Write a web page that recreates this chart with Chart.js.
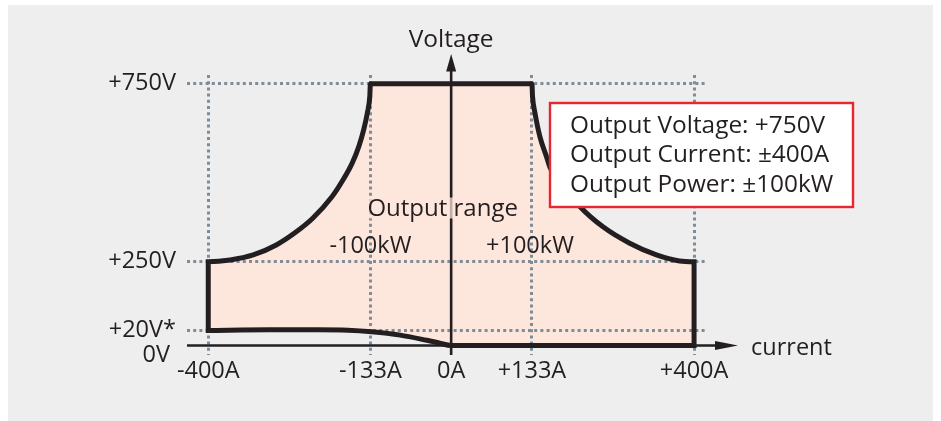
<!DOCTYPE html>
<html>
<head>
<meta charset="utf-8">
<script src="https://cdn.jsdelivr.net/npm/chart.js@4.4.1/dist/chart.umd.min.js"></script>
<style>
html,body{margin:0;padding:0;background:#ffffff;width:941px;height:421px;overflow:hidden}
#bg{position:absolute;left:8px;top:5px;width:925px;height:416px;background:#eeeeee}
#c{position:absolute;left:0;top:0}
</style>
</head>
<body>
<div id="bg"></div>
<canvas id="c" width="941" height="421"></canvas>
<script>
// ---------------- data ----------------
const xTicks = [-400, -133, 0, 133, 400];
const xTickLabels = ['-400A', '-133A', '0A', '+133A', '+400A'];
const yTicks = [0, 20, 250, 750];
const yTickLabels = [['', '0V '], '+20V*', '+250V', '+750V'];

// outline of the output range (current in A, voltage in V), walked around the shape
const rangeCurrent = [-400, -400, -364, -326, -288, -255, -228, -196, -178, -163, -152, -144, -138, -134, -133,
                      133, 134, 138, 146, 157, 163, 212, 250, 294, 338, 376, 400,
                      400, 0, -20, -40, -84, -131, -170, -220, -300, -400];
const rangeVoltage = [21, 250, 255, 269, 297, 334, 372, 433, 480, 527, 574, 621, 668, 714, 750,
                      750, 714, 668, 602, 545, 514, 405, 348, 302, 269, 252, 250,
                      0, 0, 3.5, 7, 14, 18.5, 21.5, 23, 23, 21];

const rangeLabel = 'Output range';
const powerLabels = ['-100kW', '+100kW'];
const specLines = ['Output Voltage: +750V', 'Output Current: \u00b1400A', 'Output Power: \u00b1100kW'];
const yAxisTitle = 'Voltage';
const xAxisTitle = 'current';

// ---------------- styles ----------------
const ink = '#231f20';
const fillColor = '#fde6dc';
const gridColor = '#7f8d99';
const FONT = "'Open Sans', 'Noto Sans', sans-serif";

// piecewise-linear value axis (schematic voltage axis)
class BrokenScale extends Chart.LinearScale {
  _toDec(v) {
    const b = this.options.breaks;
    if (v <= b[0].v) return b[0].d + (v - b[0].v) * (b[1].d - b[0].d) / (b[1].v - b[0].v);
    for (let i = 1; i < b.length; i++) {
      if (v <= b[i].v || i === b.length - 1) {
        return b[i - 1].d + (v - b[i - 1].v) * (b[i].d - b[i - 1].d) / (b[i].v - b[i - 1].v);
      }
    }
  }
  _fromDec(d) {
    const b = this.options.breaks;
    for (let i = 1; i < b.length; i++) {
      if (d <= b[i].d || i === b.length - 1) {
        return b[i - 1].v + (d - b[i - 1].d) * (b[i].v - b[i - 1].v) / (b[i].d - b[i - 1].d);
      }
    }
  }
  getPixelForValue(value) {
    return value === null || value === undefined ? NaN : this.getPixelForDecimal(this._toDec(value));
  }
  getValueForPixel(pixel) {
    return this._fromDec(this.getDecimalForPixel(pixel));
  }
}
BrokenScale.id = 'broken';
BrokenScale.defaults = Chart.LinearScale.defaults;
Chart.register(BrokenScale);

const decor = {
  id: 'decor',
  afterDatasetsDraw(chart) {
    const {ctx, chartArea: a, scales: {x, y}} = chart;
    const x0 = x.getPixelForValue(0);
    const y0 = y.getPixelForValue(0);
    ctx.save();
    ctx.strokeStyle = ink;
    ctx.fillStyle = ink;
    ctx.lineWidth = 2.6;
    // x axis with arrow
    const xTip = a.right + 33;
    ctx.beginPath(); ctx.moveTo(a.left, y0); ctx.lineTo(xTip - 18, y0); ctx.stroke();
    ctx.beginPath(); ctx.moveTo(xTip, y0); ctx.lineTo(xTip - 23, y0 - 4.5); ctx.lineTo(xTip - 23, y0 + 4.5); ctx.closePath(); ctx.fill();
    // y axis with arrow
    const yTip = a.top - 21;
    ctx.beginPath(); ctx.moveTo(x0, a.bottom); ctx.lineTo(x0, yTip + 15); ctx.stroke();
    ctx.beginPath(); ctx.moveTo(x0, yTip); ctx.lineTo(x0 - 5, yTip + 17.5); ctx.lineTo(x0 + 5, yTip + 17.5); ctx.closePath(); ctx.fill();

    ctx.textBaseline = 'alphabetic';
    // axis titles
    ctx.font = '24.5px ' + FONT;
    ctx.textAlign = 'center';
    ctx.fillText(yAxisTitle, x0, a.top - 28.5);
    ctx.font = '23.5px ' + FONT;
    ctx.textAlign = 'left';
    ctx.fillText(xAxisTitle, xTip + 13, y0 + 9.5);

    // "Output range" with translucent backdrop
    ctx.font = '24px ' + FONT;
    const rx = x0 - 8.5, ry = 215.5;
    const w = ctx.measureText(rangeLabel).width;
    ctx.fillStyle = 'rgba(253,230,220,0.72)';
    ctx.fillRect(rx - w / 2 - 4, ry - 18, w + 8, 21);
    ctx.fillStyle = ink;
    ctx.textAlign = 'center';
    ctx.fillText(rangeLabel, rx, ry);

    // power labels
    ctx.font = '23.5px ' + FONT;
    ctx.fillText(powerLabels[0], x.getPixelForValue(-133), 252.5);
    ctx.fillText(powerLabels[1], x.getPixelForValue(133) - 2, 252.5);

    // spec box
    ctx.fillStyle = '#ffffff';
    ctx.fillRect(550, 103, 303, 104);
    ctx.strokeStyle = '#e8262d';
    ctx.lineWidth = 2.4;
    ctx.strokeRect(550, 103, 303, 104);
    ctx.fillStyle = ink;
    ctx.textAlign = 'left';
    ctx.font = '24.4px ' + FONT;
    specLines.forEach((t, i) => ctx.fillText(t, 570, 132.5 + i * 29.5));
    ctx.restore();
  }
};

new Chart(document.getElementById('c'), {
  type: 'scatter',
  data: {
    datasets: [{
      data: rangeCurrent.map((c, i) => ({x: c, y: rangeVoltage[i]})),
      showLine: true,
      fill: 'shape',
      backgroundColor: fillColor,
      borderColor: ink,
      borderWidth: 5,
      borderJoinStyle: 'miter',
      borderCapStyle: 'square',
      cubicInterpolationMode: 'monotone',
      pointRadius: 0,
      pointHoverRadius: 0,
      clip: false
    }]
  },
  options: {
    responsive: false,
    devicePixelRatio: 1,
    animation: false,
    events: [],
    layout: {padding: {left: 0, right: 236, top: 75, bottom: 0}},
    plugins: {
      legend: {display: false},
      tooltip: {enabled: false},
      filler: {drawTime: 'beforeDraw'}
    },
    scales: {
      x: {
        type: 'linear',
        min: -435, max: 418,
        afterBuildTicks: s => { s.ticks = xTicks.map(v => ({value: v})); },
        afterFit: s => { s.height = 66; },
        ticks: {
          autoSkip: false,
          maxRotation: 0,
          padding: 2,
          color: ink,
          font: {family: FONT, size: 23.5, lineHeight: 1.2},
          callback: v => xTickLabels[xTicks.indexOf(v)]
        },
        grid: {
          drawTicks: false,
          lineWidth: 3,
          color: c => (c.tick && c.tick.value === 0) ? 'rgba(0,0,0,0)' : gridColor
        },
        border: {display: false, dash: [3, 3.2]}
      },
      y: {
        type: 'broken',
        min: -13, max: 775,
        breaks: [{v: -13, d: 0}, {v: 0, d: 0.0339}, {v: 20, d: 0.0868}, {v: 250, d: 0.3332}, {v: 750, d: 0.9689}, {v: 775, d: 1}],
        afterBuildTicks: s => { s.ticks = yTicks.map(v => ({value: v})); },
        afterFit: s => { s.width = 187; },
        ticks: {
          autoSkip: false,
          padding: 11,
          color: ink,
          font: {family: FONT, size: 23.5, lineHeight: 0.8},
          callback: v => yTickLabels[yTicks.indexOf(v)]
        },
        grid: {
          drawTicks: false,
          lineWidth: 3,
          color: c => (c.tick && c.tick.value === 0) ? 'rgba(0,0,0,0)' : gridColor
        },
        border: {display: false, dash: [3, 3.2]}
      }
    }
  },
  plugins: [decor]
});
</script>
</body>
</html>
